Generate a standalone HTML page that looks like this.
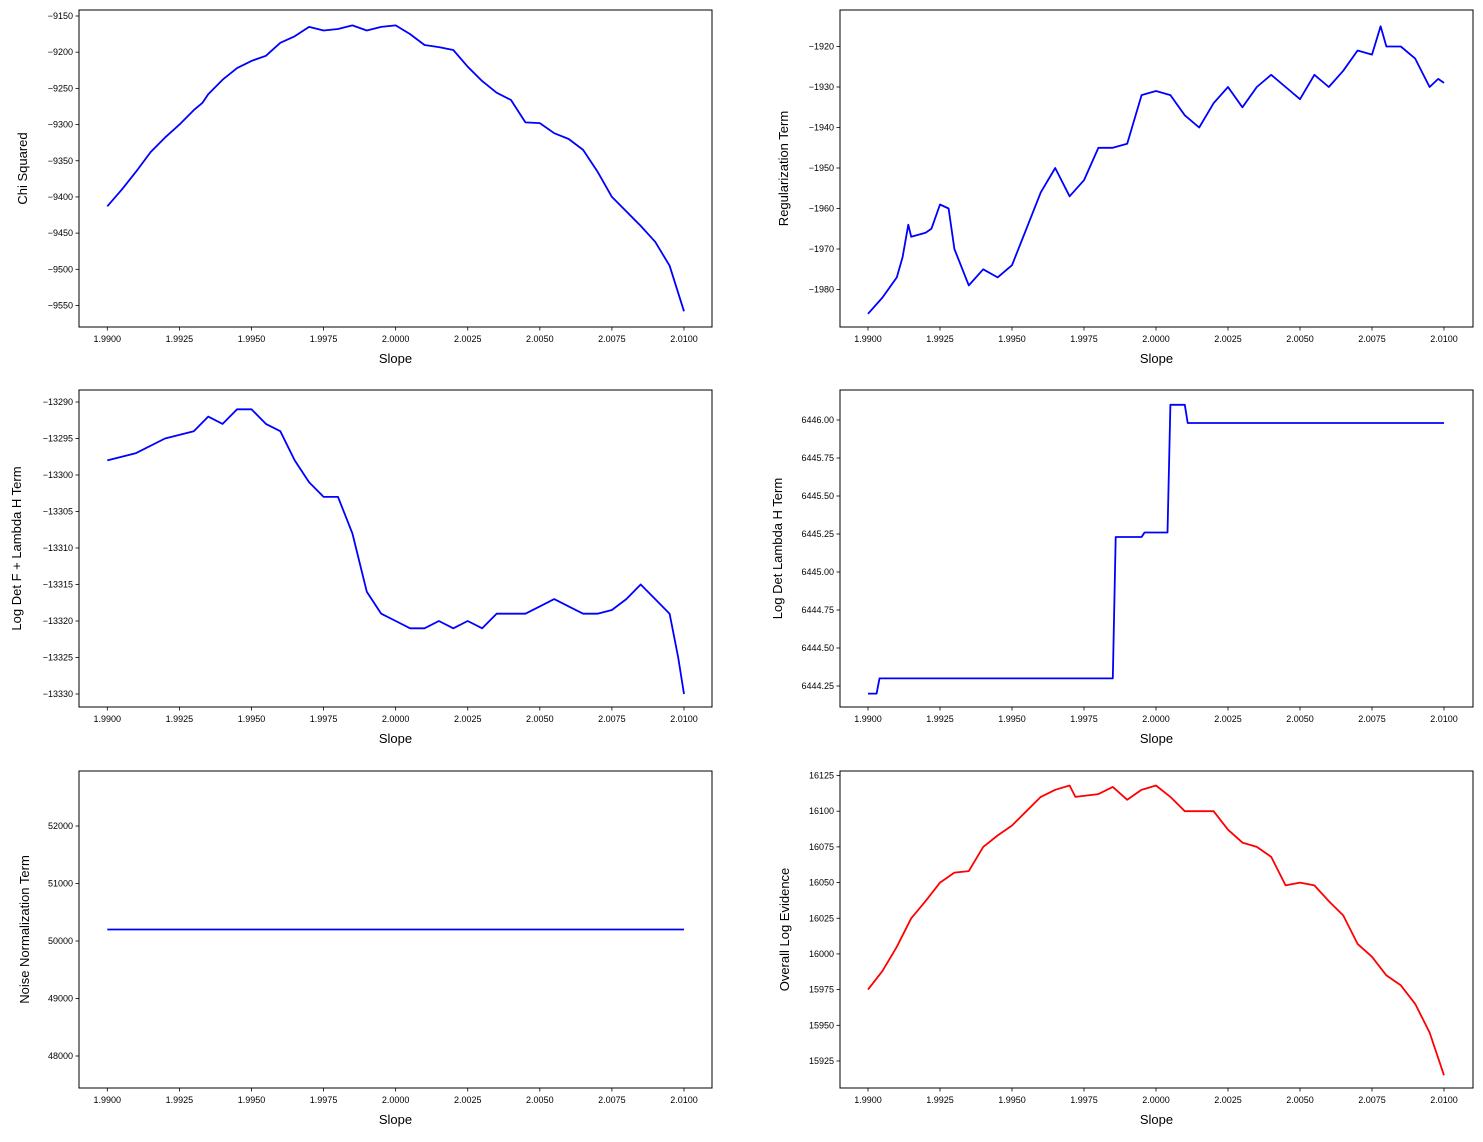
<!DOCTYPE html>
<html><head><meta charset="utf-8"><style>
body{margin:0;background:#fff;}
svg text{font-family:"Liberation Sans","DejaVu Sans",sans-serif;fill:#000;}
</style></head><body>
<svg id="fig" width="1483" height="1137" xmlns="http://www.w3.org/2000/svg"></svg>
<script>
const xTicks=[1.99,1.9925,1.995,1.9975,2.0,2.0025,2.005,2.0075,2.01];
const xTickLabels=["1.9900","1.9925","1.9950","1.9975","2.0000","2.0025","2.0050","2.0075","2.0100"];

const chiX=[1.99,1.9905,1.991,1.9915,1.992,1.9925,1.993,1.9933,1.9935,1.994,1.9945,1.995,1.9955,1.996,1.9965,1.997,1.9975,1.998,1.9985,1.999,1.9995,2.0,2.0005,2.001,2.0015,2.002,2.0025,2.003,2.0035,2.004,2.0045,2.005,2.0055,2.006,2.0065,2.007,2.0075,2.008,2.0085,2.009,2.0095,2.01];
const chiY=[-9413,-9390,-9365,-9338,-9318,-9300,-9280,-9270,-9258,-9238,-9222,-9212,-9205,-9187,-9178,-9165,-9170,-9168,-9163,-9170,-9165,-9163,-9175,-9190,-9193,-9197,-9220,-9240,-9256,-9266,-9297,-9298,-9312,-9320,-9335,-9365,-9400,-9420,-9440,-9462,-9495,-9558];

const regX=[1.99,1.9905,1.991,1.9912,1.9914,1.9915,1.992,1.9922,1.9925,1.9928,1.993,1.9935,1.994,1.9945,1.995,1.9955,1.996,1.9965,1.997,1.9975,1.998,1.9985,1.999,1.9995,2.0,2.0005,2.001,2.0015,2.002,2.0025,2.003,2.0035,2.004,2.0045,2.005,2.0055,2.006,2.0065,2.007,2.0075,2.0078,2.008,2.0085,2.009,2.0095,2.0098,2.01];
const regY=[-1986,-1982,-1977,-1972,-1964,-1967,-1966,-1965,-1959,-1960,-1970,-1979,-1975,-1977,-1974,-1965,-1956,-1950,-1957,-1953,-1945,-1945,-1944,-1932,-1931,-1932,-1937,-1940,-1934,-1930,-1935,-1930,-1927,-1930,-1933,-1927,-1930,-1926,-1921,-1922,-1915,-1920,-1920,-1923,-1930,-1928,-1929];

const ldX=[1.99,1.991,1.992,1.993,1.9935,1.994,1.9945,1.995,1.9955,1.996,1.9965,1.997,1.9975,1.998,1.9985,1.999,1.9995,2.0,2.0005,2.001,2.0015,2.002,2.0025,2.003,2.0035,2.004,2.0045,2.005,2.0055,2.006,2.0065,2.007,2.0075,2.008,2.0085,2.009,2.0095,2.0098,2.01];
const ldY=[-13298,-13297,-13295,-13294,-13292,-13293,-13291,-13291,-13293,-13294,-13298,-13301,-13303,-13303,-13308,-13316,-13319,-13320,-13321,-13321,-13320,-13321,-13320,-13321,-13319,-13319,-13319,-13318,-13317,-13318,-13319,-13319,-13318.5,-13317,-13315,-13317,-13319,-13325,-13330];

const lhX=[1.99,1.9903,1.9904,1.9985,1.9986,1.9995,1.9996,2.0004,2.0005,2.001,2.0011,2.01];
const lhY=[6444.2,6444.2,6444.3,6444.3,6445.23,6445.23,6445.26,6445.26,6446.1,6446.1,6445.98,6445.98];

const nnX=[1.99,2.01];
const nnY=[50200,50200];

const evX=[1.99,1.9905,1.991,1.9915,1.992,1.9925,1.993,1.9935,1.994,1.9945,1.995,1.9955,1.996,1.9965,1.997,1.9972,1.998,1.9985,1.999,1.9995,2.0,2.0005,2.001,2.0015,2.002,2.0025,2.003,2.0035,2.004,2.0045,2.005,2.0055,2.006,2.0065,2.007,2.0075,2.008,2.0085,2.009,2.0095,2.01];
const evY=[15975,15988,16005,16025,16037,16050,16057,16058,16075,16083,16090,16100,16110,16115,16118,16110,16112,16117,16108,16115,16118,16110,16100,16100,16100,16087,16078,16075,16068,16048,16050,16048,16037,16027,16007,15998,15985,15978,15965,15945,15915];

const chiTicks=[-9550,-9500,-9450,-9400,-9350,-9300,-9250,-9200,-9150];
const regTicks=[-1980,-1970,-1960,-1950,-1940,-1930,-1920];
const ldTicks=[-13330,-13325,-13320,-13315,-13310,-13305,-13300,-13295,-13290];
const lhTicks=[6444.25,6444.5,6444.75,6445,6445.25,6445.5,6445.75,6446];
const nnTicks=[48000,49000,50000,51000,52000];
const evTicks=[15925,15950,15975,16000,16025,16050,16075,16100,16125];

const NS="http://www.w3.org/2000/svg";
const svg=document.getElementById('fig');
function mk(tag,attrs,parent){const e=document.createElementNS(NS,tag);for(const k in attrs)e.setAttribute(k,attrs[k]);(parent||svg).appendChild(e);return e;}

function panel(name,L,R,T,B,xs,ys,yTicks,yT0,yP0,yT1,yP1,fmt,label,color,xpad0,xpad1,labOff){
  const g=mk('g',{});
  
  
  const xScale=v=>xpad0+(v-1.99)/(0.02)*(xpad1-xpad0);
  const yScale=v=>yP0+(v-yT0)/(yT1-yT0)*(yP1-yP0);
  const fr=mk('rect',{x:L,y:T,width:R-L,height:B-T,fill:'none',stroke:'#000','stroke-width':1},g);
  
  
  xTicks.forEach((t,i)=>{const x=xScale(t);
    mk('line',{x1:x,x2:x,y1:B,y2:B+3.5,stroke:'#000','stroke-width':0.8},g);
    const tx=mk('text',{x:x,y:B+15,'font-size':9,'text-anchor':'middle'},g);tx.textContent=xTickLabels[i];
    
    
  });
  yTicks.forEach(t=>{const y=yScale(t);
    mk('line',{x1:L-3.5,x2:L,y1:y,y2:y,stroke:'#000','stroke-width':0.8},g);
    const tx=mk('text',{x:L-6,y:y+3,'font-size':9,'text-anchor':'end'},g);tx.textContent=fmt(t);
    
    
  });
  const xl=mk('text',{x:(L+R)/2,y:B+36,'font-size':13,'text-anchor':'middle'},g);xl.textContent='Slope';
  
  
  const yl=mk('text',{x:0,y:0,'font-size':13,'text-anchor':'middle',transform:`translate(${L-labOff},${(T+B)/2}) rotate(-90)`},g);yl.textContent=label;
  
  
  const pts=xs.map((x,i)=>xScale(x).toFixed(1)+','+yScale(ys[i]).toFixed(1)).join(' ');
  const pl=mk('polyline',{points:pts,fill:'none',stroke:color,'stroke-width':1.8,'stroke-linejoin':'round'},g);
  
  
}
const f0=v=>String(v).replace('-','\u2212');
const f2=v=>v.toFixed(2);
panel('chi',79,712,10,327,chiX,chiY,chiTicks,-9150,16,-9550,305.5,f0,'Chi Squared','#0000ff',107.3,684,52);
panel('regularization',840,1473,10,327,regX,regY,regTicks,-1920,46.5,-1980,289.5,f0,'Regularization Term','#0000ff',868,1444,52);
panel('logdet-f',79,712,390,707,ldX,ldY,ldTicks,-13290,402,-13330,694,f0,'Log Det F + Lambda H Term','#0000ff',107.3,684,58);
panel('logdet-lambda',840,1473,390,707,lhX,lhY,lhTicks,6446,420,6444.25,686,f2,'Log Det Lambda H Term','#0000ff',868,1444,58);
panel('noise',79,712,771,1088,nnX,nnY,nnTicks,52000,826,48000,1056,f0,'Noise Normalization Term','#0000ff',107.3,684,50);
panel('evidence',840,1473,771,1088,evX,evY,evTicks,16125,775.5,15925,1061,f0,'Overall Log Evidence','#ff0000',868,1444,51);
</script>
</body></html>
